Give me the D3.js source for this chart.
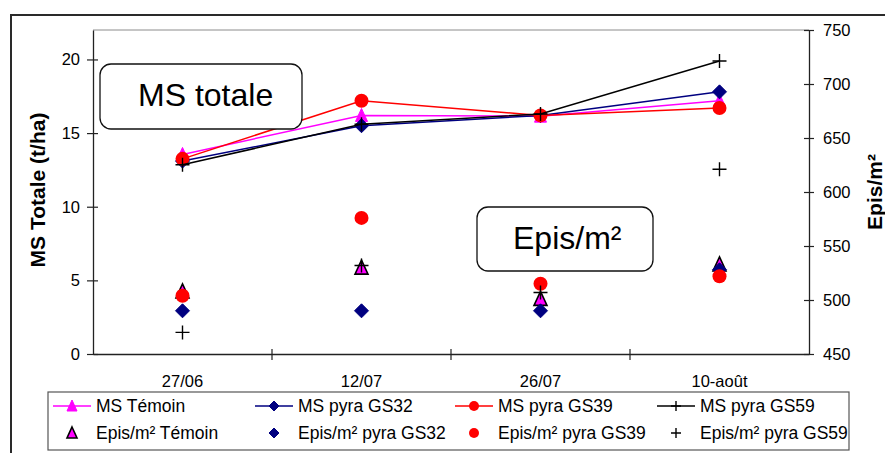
<!DOCTYPE html>
<html>
<head>
<meta charset="utf-8">
<script src="https://cdn.jsdelivr.net/npm/d3@7"></script>
<style>
  html, body { margin: 0; padding: 0; background: #fff; }
  svg { display: block; font-family: "Liberation Sans", Arial, sans-serif; }
</style>
</head>
<body>
<svg id="chart" width="885" height="453"></svg>
<script>
// ---- data ----
const categories = ["27/06", "12/07", "26/07", "10-août"];
const msTemoin = [13.55, 16.2, 16.15, 17.2];
const msGS32 = [13.1, 15.5, 16.2, 17.8];
const msGS39 = [13.25, 17.2, 16.2, 16.7];
const msGS59 = [12.85, 15.6, 16.3, 19.9];
const episTemoin = [508, 530, 501, 533];
const episGS32 = [490, 490, 490, 528];
const episGS39 = [504, 576, 515, 522];
const episGS59 = [470, 532, 507, 621];
const leftTicks = [0, 5, 10, 15, 20];
const rightTicks = [450, 500, 550, 600, 650, 700, 750];
const seriesNames = ["MS Témoin", "MS pyra GS32", "MS pyra GS39", "MS pyra GS59",
                     "Epis/m² Témoin", "Epis/m² pyra GS32", "Epis/m² pyra GS39", "Epis/m² pyra GS59"];

// ---- layout ----
const svg = d3.select("#chart");
const L = 93, R = 809, T = 30, B = 354;
const FONT = 16.5;
const LEGFONT = 17.5;

const x = d3.scaleBand().domain(categories).range([L, R]);
const xc = c => x(c) + x.bandwidth() / 2;
const yL = d3.scaleLinear().domain([0, 22]).range([B, T]);
const yR = d3.scaleLinear().domain([450, 750]).range([B, T]);

// outer chart border
svg.append("path").attr("d", `M11,470 L11,15 L900,15`).attr("fill", "none")
  .attr("stroke", "#2a2a2a").attr("stroke-width", 2);
// plot top border
svg.append("line").attr("x1", L).attr("x2", R).attr("y1", T).attr("y2", T)
  .attr("stroke", "#8c8c8c").attr("stroke-width", 1);

// left axis
const gL = svg.append("g").attr("transform", `translate(${L},0)`)
  .call(d3.axisLeft(yL).tickValues(leftTicks).tickSize(6).tickSizeOuter(0).tickPadding(7));
gL.selectAll(".tick line").attr("x1", 5);
// right axis
const gR = svg.append("g").attr("transform", `translate(${R},0)`)
  .call(d3.axisRight(yR).tickValues(rightTicks).tickSize(5).tickSizeOuter(0).tickPadding(9));
gR.selectAll(".tick line").attr("x1", -5);
// bottom axis
const gB = svg.append("g").attr("transform", `translate(0,${B})`)
  .call(d3.axisBottom(x).tickSize(0).tickSizeOuter(0).tickPadding(21));
gB.selectAll(".tick line").remove();
// category boundary ticks
gB.selectAll("line.bt").data(categories.slice(1)).enter().append("line")
  .attr("class", "bt").attr("x1", c => x(c)).attr("x2", c => x(c))
  .attr("y1", -5).attr("y2", 6).attr("stroke", "#222").attr("stroke-width", 1.2);

[gL, gR, gB].forEach(g => {
  g.selectAll(".domain").attr("stroke", "#222").attr("stroke-width", 1.3);
  g.selectAll(".tick line").attr("stroke", "#222").attr("stroke-width", 1.2);
  g.selectAll("text").attr("font-size", FONT).attr("fill", "#000")
    .attr("font-family", "Liberation Sans, Arial, sans-serif");
});

// axis titles
svg.append("text").attr("transform", `translate(45,190) rotate(-90)`)
  .attr("text-anchor", "middle").attr("font-size", 21).attr("font-weight", "bold")
  .text("MS Totale (t/ha)");
svg.append("text").attr("transform", `translate(882,192) rotate(-90)`)
  .attr("text-anchor", "middle").attr("font-size", 21).attr("font-weight", "bold")
  .text("Epis/m²");

// ---- marker painters ----
function marker(g, type, cx, cy, s, outline) {
  if (type === "tri") {
    const h = s;
    g.append("path").attr("d", `M${cx},${cy - h/2 - 1} L${cx + s/2},${cy + h/2} L${cx - s/2},${cy + h/2} Z`)
      .attr("fill", "#ff00ff").attr("stroke", outline ? "#000" : "#ff00ff").attr("stroke-width", outline ? 1.6 : 1);
  } else if (type === "dia") {
    const r = s / 2;
    g.append("path").attr("d", `M${cx},${cy - r} L${cx + r},${cy} L${cx},${cy + r} L${cx - r},${cy} Z`)
      .attr("fill", "#000080").attr("stroke", "#000080").attr("stroke-width", 1);
  } else if (type === "cir") {
    g.append("circle").attr("cx", cx).attr("cy", cy).attr("r", s / 2).attr("fill", "#ff0000");
  } else if (type === "plus") {
    const r = s / 2;
    g.append("path").attr("d", `M${cx - r},${cy} L${cx + r},${cy} M${cx},${cy - r} L${cx},${cy + r}`)
      .attr("stroke", "#000").attr("stroke-width", 1.4).attr("fill", "none");
  }
}

const msSeries = [
  { name: seriesNames[0], values: msTemoin, color: "#ff00ff", type: "tri", size: 12 },
  { name: seriesNames[1], values: msGS32, color: "#000080", type: "dia", size: 14 },
  { name: seriesNames[2], values: msGS39, color: "#ff0000", type: "cir", size: 14 },
  { name: seriesNames[3], values: msGS59, color: "#000000", type: "plus", size: 14 }
];
const episSeries = [
  { name: seriesNames[4], values: episTemoin, type: "tri", size: 13 },
  { name: seriesNames[5], values: episGS32, type: "dia", size: 14 },
  { name: seriesNames[6], values: episGS39, type: "cir", size: 14 },
  { name: seriesNames[7], values: episGS59, type: "plus", size: 14 }
];

const plot = svg.append("g");
const line = d3.line().x((d, i) => xc(categories[i])).y(d => yL(d));
msSeries.forEach(s => {
  plot.append("path").attr("d", line(s.values)).attr("fill", "none")
    .attr("stroke", s.color).attr("stroke-width", 1.5);
  s.values.forEach((v, i) => marker(plot, s.type, xc(categories[i]), yL(v), s.size, false));
});
episSeries.forEach(s => {
  s.values.forEach((v, i) => marker(plot, s.type, xc(categories[i]), yR(v), s.size, true));
});

// ---- annotation boxes ----
function box(x0, y0, w, h, label, tx, ty) {
  svg.append("rect").attr("x", x0).attr("y", y0).attr("width", w).attr("height", h)
    .attr("rx", 11).attr("fill", "#fff").attr("stroke", "#111").attr("stroke-width", 1.3);
  svg.append("text").attr("x", tx).attr("y", ty).attr("font-size", 32).text(label);
}
box(100, 64, 202, 65, "MS totale", 138, 106);
box(477, 207, 176, 64, "Epis/m²", 513, 249);

// ---- legend ----
svg.append("defs").append("clipPath").attr("id", "legclip")
  .append("rect").attr("x", 48).attr("y", 392).attr("width", 800).attr("height", 58);
const leg = svg.append("g").attr("clip-path", "url(#legclip)");
leg.append("rect").attr("x", 48).attr("y", 392).attr("width", 801).attr("height", 58)
  .attr("fill", "#fff");
const colX = [53, 255, 455, 657];
const rowY = [406, 433];
msSeries.forEach((s, i) => {
  const x0 = colX[i];
  leg.append("line").attr("x1", x0).attr("x2", x0 + 38).attr("y1", rowY[0]).attr("y2", rowY[0])
    .attr("stroke", s.color).attr("stroke-width", 1.5);
  marker(leg, s.type, x0 + 19, rowY[0], 10, false);
  leg.append("text").attr("x", x0 + 43).attr("y", rowY[0] + 6).attr("font-size", LEGFONT).text(s.name);
});
episSeries.forEach((s, i) => {
  const x0 = colX[i];
  marker(leg, s.type, x0 + 19, rowY[1], 10, true);
  leg.append("text").attr("x", x0 + 43).attr("y", rowY[1] + 6).attr("font-size", LEGFONT).text(s.name);
});
svg.append("rect").attr("x", 48).attr("y", 392).attr("width", 801).attr("height", 58)
  .attr("fill", "none").attr("stroke", "#555").attr("stroke-width", 1.2);
</script>
</body>
</html>
